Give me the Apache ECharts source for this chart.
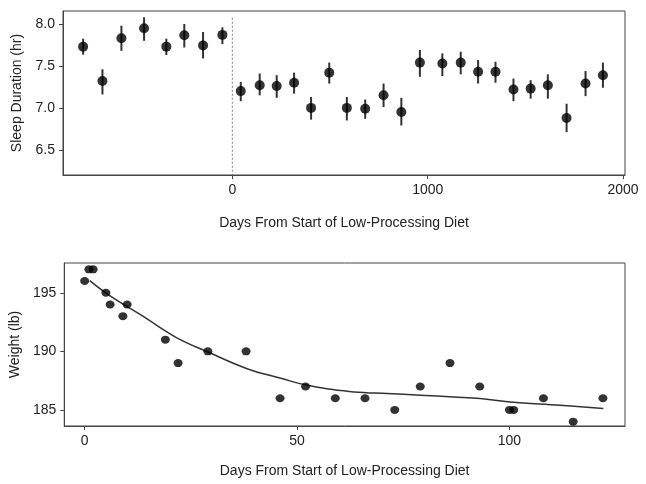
<!DOCTYPE html>
<html>
<head>
<meta charset="utf-8">
<script src="https://cdn.jsdelivr.net/npm/echarts@6/dist/echarts.min.js"></script>
<style>
  html, body { margin: 0; padding: 0; background: #fff; }
  #chart { width: 646px; height: 484px; }
</style>
</head>
<body>
<div id="chart"></div>
<script>
// sleep duration, mean with error bars, per ~90 day block
var sleepDays = [-764, -665, -568, -452, -338, -246, -150, -51, 43, 140, 227, 316, 403, 496, 586, 680, 774, 865, 960, 1075, 1169, 1258, 1347, 1439, 1527, 1615, 1711, 1808, 1897];
var sleepMean = [7.73, 7.32, 7.83, 7.95, 7.73, 7.865, 7.745, 7.87, 7.20, 7.27, 7.26, 7.30, 7.00, 7.42, 7.00, 6.99, 7.15, 6.95, 7.54, 7.53, 7.54, 7.43, 7.43, 7.22, 7.23, 7.27, 6.88, 7.29, 7.39];
var sleepLow = [7.635, 7.16, 7.68, 7.80, 7.63, 7.72, 7.59, 7.76, 7.08, 7.15, 7.12, 7.17, 6.86, 7.29, 6.85, 6.87, 7.01, 6.79, 7.37, 7.38, 7.40, 7.29, 7.30, 7.08, 7.11, 7.11, 6.71, 7.14, 7.24];
var sleepHigh = [7.825, 7.46, 7.98, 8.08, 7.825, 8.0, 7.905, 7.96, 7.31, 7.41, 7.39, 7.42, 7.13, 7.54, 7.13, 7.10, 7.29, 7.12, 7.69, 7.65, 7.67, 7.57, 7.55, 7.35, 7.33, 7.40, 7.05, 7.44, 7.54];
var dietStart = [[0, 8.075], [0, 6.2]];

// weight
var weightDays = [0, 1, 2, 5, 6, 9, 10, 19, 22, 29, 38, 46, 52, 59, 66, 73, 79, 86, 93, 100, 101, 108, 115, 122];
var weightLb = [196, 197, 197, 195, 194, 193, 194, 191, 189, 190, 190, 186, 187, 186, 186, 185, 187, 189, 187, 185, 185, 186, 184, 186];
var fitDays = [1.2, 5.9, 13.7, 21.5, 29.3, 38.4, 46.2, 52.4, 57.9, 63.4, 71.2, 79, 86.9, 93.1, 100.2, 111.9, 122.1];
var fitLb = [196.03, 194.75, 193.0, 191.2, 189.9, 188.5, 187.7, 187.1, 186.77, 186.54, 186.4, 186.26, 186.1, 185.97, 185.68, 185.4, 185.12];

var sleepTicksX = [0, 1000, 2000];
var sleepTicksY = [6.5, 7.0, 7.5, 8.0];
var weightTicksX = [0, 50, 100];
var weightTicksY = [185, 190, 195];

var ink = '#222';
var frame = '#444';
var font = 'Liberation Sans, Arial, sans-serif';

function zip(a, b) {
  return a.map(function (v, i) { return [v, b[i]]; });
}

function xAxisOpt(idx, min, max, ticks, gap) {
  return {
    type: 'value', gridIndex: idx, min: min, max: max,
    name: 'Days From Start of Low-Processing Diet',
    nameLocation: 'middle', nameGap: gap,
    nameTextStyle: { color: ink, fontSize: 14, fontFamily: font },
    axisLine: { show: true, onZero: false, lineStyle: { color: frame } },
    axisTick: { show: true, length: 4, customValues: ticks, lineStyle: { color: frame } },
    axisLabel: {
      color: ink, fontSize: 14, fontFamily: font, margin: 8, customValues: ticks,
      formatter: function (v) { return String(v); }
    },
    splitLine: { show: false }
  };
}

function yAxisOpt(idx, min, max, ticks, name, digits) {
  return {
    type: 'value', gridIndex: idx, min: min, max: max,
    name: name, nameLocation: 'middle', nameGap: 33,
    nameTextStyle: { color: ink, fontSize: 14, fontFamily: font },
    axisLine: { show: true, onZero: false, lineStyle: { color: frame } },
    axisTick: { show: true, length: 4, customValues: ticks, lineStyle: { color: frame } },
    axisLabel: {
      color: ink, fontSize: 14, fontFamily: font, margin: 8, customValues: ticks,
      formatter: function (v) { return v.toFixed(digits); }
    },
    splitLine: { show: false }
  };
}

var chart = echarts.init(document.getElementById('chart'), null, { renderer: 'canvas' });
chart.setOption({
  animation: false,
  backgroundColor: '#fff',
  grid: [
    { left: 63, top: 11, width: 562, height: 164, show: true, borderColor: frame, borderWidth: 1, backgroundColor: 'transparent' },
    { left: 63, top: 263, width: 562, height: 163, show: true, borderColor: frame, borderWidth: 1, backgroundColor: 'transparent' }
  ],
  xAxis: [
    xAxisOpt(0, -867, 2010, sleepTicksX, 41),
    xAxisOpt(1, -4.8, 127.2, weightTicksX, 38)
  ],
  yAxis: [
    yAxisOpt(0, 6.2, 8.155, sleepTicksY, 'Sleep Duration (hr)', 1),
    yAxisOpt(1, 183.63, 197.54, weightTicksY, 'Weight (lb)', 0)
  ],
  series: [
    {
      type: 'line', xAxisIndex: 0, yAxisIndex: 0,
      data: dietStart, symbol: 'none',
      lineStyle: { color: '#888', width: 1, type: [2, 2] }
    },
    {
      type: 'custom', xAxisIndex: 0, yAxisIndex: 0,
      data: sleepDays.map(function (d, i) { return [d, sleepLow[i], sleepHigh[i]]; }),
      renderItem: function (params, api) {
        var lo = api.coord([api.value(0), api.value(1)]);
        var hi = api.coord([api.value(0), api.value(2)]);
        return {
          type: 'line',
          shape: { x1: lo[0], y1: lo[1], x2: hi[0], y2: hi[1] },
          style: { stroke: '#333', lineWidth: 2 }
        };
      },
      z: 2
    },
    {
      type: 'scatter', xAxisIndex: 0, yAxisIndex: 0,
      data: zip(sleepDays, sleepMean), symbol: 'circle', symbolSize: 10,
      itemStyle: { color: '#000' }, z: 3
    },
    {
      type: 'line', xAxisIndex: 1, yAxisIndex: 1,
      data: zip(fitDays, fitLb), symbol: 'none', smooth: 0.4,
      lineStyle: { color: '#333', width: 1.5 }
    },
    {
      type: 'scatter', xAxisIndex: 1, yAxisIndex: 1,
      data: zip(weightDays, weightLb), symbol: 'circle', symbolSize: [9, 8],
      itemStyle: { color: '#000' }, z: 3
    }
  ]
});
window.addEventListener('resize', function () { chart.resize(); });
</script>
</body>
</html>
